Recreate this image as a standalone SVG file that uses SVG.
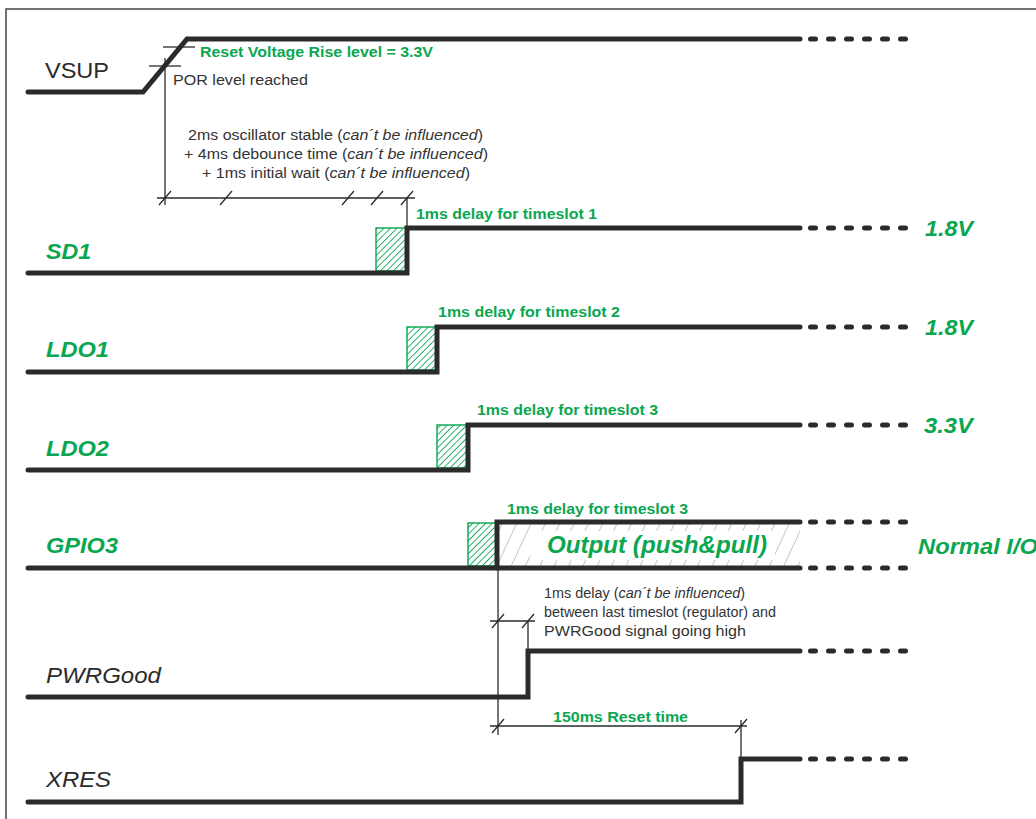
<svg xmlns="http://www.w3.org/2000/svg" width="1036" height="819" viewBox="0 0 1036 819">
<style>
.sig{fill:none;stroke:#2b2b2b;stroke-width:5;stroke-linecap:round;stroke-linejoin:miter}
.dots{fill:none;stroke:#2b2b2b;stroke-width:5;stroke-linecap:round;stroke-dasharray:5 13}
.dim{fill:none;stroke:#2b2b2b;stroke-width:1.3}
.hbox{fill:url(#hatchG);stroke:#05a550;stroke-width:1.4}
.lbl{font-family:"Liberation Sans",Arial,sans-serif;font-size:22px}
.glbl{font-family:"Liberation Sans",Arial,sans-serif;font-size:22px;font-weight:bold;font-style:italic;fill:#0aa650}
.dlbl{font-family:"Liberation Sans",Arial,sans-serif;font-size:22px;font-style:italic;fill:#2b2b2b}
.gs{font-family:"Liberation Sans",Arial,sans-serif;font-size:14px;font-weight:bold;fill:#0aa650}
.note{font-family:"Liberation Sans",Arial,sans-serif;font-size:14px;fill:#333333}
.it{font-style:italic}
</style>
<defs>
<pattern id="hatchG" width="4.6" height="4.6" patternUnits="userSpaceOnUse" patternTransform="rotate(45)">
<line x1="0" y1="0" x2="0" y2="4.6" stroke="#05a550" stroke-width="1.7"/>
</pattern>
<pattern id="hatchY" width="13" height="13" patternUnits="userSpaceOnUse" patternTransform="rotate(25)">
<line x1="0" y1="0" x2="0" y2="13" stroke="#a8a8a8" stroke-width="1.3"/>
</pattern>
</defs>
<rect width="1036" height="819" fill="#ffffff"/>
<path d="M6 819 V9 H1036" fill="none" stroke="#444444" stroke-width="1.5"/>

<g id="connectors">
<line class="dim" x1="163" y1="47" x2="195" y2="47"/>
<line class="dim" x1="149" y1="66" x2="181" y2="66"/>
<line class="dim" x1="165" y1="58" x2="165" y2="205"/>
<line class="dim" x1="157" y1="198" x2="415" y2="198"/>
<path class="dim" d="M159 205 L171 191 M220 205 L232 191 M342 205 L354 191 M371 205 L383 191 M401 205 L413 191"/>
<line class="dim" x1="407" y1="198" x2="407" y2="228"/>
<line class="dim" x1="498" y1="568" x2="498" y2="735"/>
<line class="dim" x1="490" y1="621" x2="535" y2="621"/>
<path class="dim" d="M492 628 L504 614 M522 628 L534 614"/>
<line class="dim" x1="528" y1="621" x2="528" y2="651"/>
<line class="dim" x1="490" y1="726" x2="747" y2="726"/>
<path class="dim" d="M492 733 L504 719 M735 733 L747 719"/>
<line class="dim" x1="741" y1="720" x2="741" y2="759"/>
</g>

<g id="vsup">
<path class="sig" d="M28 92 H143 L187 39 H800"/>
<path class="dots" d="M810.5 39 H906"/>
<text class="lbl" x="45" y="78" fill="#2b2b2b" textLength="64" lengthAdjust="spacingAndGlyphs">VSUP</text>
<text class="gs" x="200" y="57" textLength="233" lengthAdjust="spacingAndGlyphs">Reset Voltage Rise level = 3.3V</text>
<text class="note" x="173" y="85" textLength="135" lengthAdjust="spacingAndGlyphs">POR level reached</text>
<text class="note" x="188" y="140" textLength="295" lengthAdjust="spacingAndGlyphs">2ms oscillator stable (<tspan class="it">can´t be influenced</tspan>)</text>
<text class="note" x="184" y="159" textLength="304" lengthAdjust="spacingAndGlyphs">+ 4ms debounce time (<tspan class="it">can´t be influenced</tspan>)</text>
<text class="note" x="202" y="178" textLength="268" lengthAdjust="spacingAndGlyphs">+ 1ms initial wait (<tspan class="it">can´t be influenced</tspan>)</text>
</g>

<g id="sd1">
<rect class="hbox" x="376" y="228" width="30" height="43"/>
<path class="sig" d="M28 273 H407 V228 H800"/>
<path class="dots" d="M810.5 228 H906"/>
<text class="glbl" x="46" y="259" textLength="45" lengthAdjust="spacingAndGlyphs">SD1</text>
<text class="gs" x="416" y="219" textLength="181" lengthAdjust="spacingAndGlyphs">1ms delay for timeslot 1</text>
<text class="glbl" x="925" y="236" textLength="48" lengthAdjust="spacingAndGlyphs">1.8V</text>
</g>

<g id="ldo1">
<rect class="hbox" x="407" y="327" width="30" height="43"/>
<path class="sig" d="M28 372 H437 V327 H800"/>
<path class="dots" d="M810.5 327 H906"/>
<text class="glbl" x="46" y="357" textLength="63" lengthAdjust="spacingAndGlyphs">LDO1</text>
<text class="gs" x="438" y="317" textLength="182" lengthAdjust="spacingAndGlyphs">1ms delay for timeslot 2</text>
<text class="glbl" x="925" y="335" textLength="48" lengthAdjust="spacingAndGlyphs">1.8V</text>
</g>

<g id="ldo2">
<rect class="hbox" x="437" y="425" width="30" height="43"/>
<path class="sig" d="M28 470 H468 V425 H800"/>
<path class="dots" d="M810.5 425 H906"/>
<text class="glbl" x="46" y="456" textLength="63" lengthAdjust="spacingAndGlyphs">LDO2</text>
<text class="gs" x="477" y="415" textLength="181" lengthAdjust="spacingAndGlyphs">1ms delay for timeslot 3</text>
<text class="glbl" x="924" y="433" textLength="49" lengthAdjust="spacingAndGlyphs">3.3V</text>
</g>

<g id="gpio3">
<rect x="497" y="522" width="303" height="46" fill="url(#hatchY)"/>
<rect x="530" y="531" width="245" height="29" fill="#ffffff"/>
<rect class="hbox" x="468" y="523" width="29" height="43"/>
<path class="sig" d="M28 568 H800"/>
<path class="sig" d="M497 568 V522 H800"/>
<path class="dots" d="M810.5 522 H906"/>
<path class="dots" d="M810.5 568 H906"/>
<text class="glbl" x="46" y="553" textLength="72" lengthAdjust="spacingAndGlyphs">GPIO3</text>
<text class="gs" x="507" y="514" textLength="181" lengthAdjust="spacingAndGlyphs">1ms delay for timeslot 3</text>
<text class="glbl" x="547" y="553" style="font-size:23px" textLength="220" lengthAdjust="spacingAndGlyphs">Output (push&amp;pull)</text>
<text class="glbl" x="918" y="554" textLength="120" lengthAdjust="spacingAndGlyphs">Normal I/O</text>
</g>

<g id="pwrgood">
<path class="sig" d="M28 697 H528 V651 H800"/>
<path class="dots" d="M810.5 651 H906"/>
<text class="dlbl" x="46" y="683" textLength="115" lengthAdjust="spacingAndGlyphs">PWRGood</text>
<text class="note" x="544" y="598" textLength="201" lengthAdjust="spacingAndGlyphs">1ms delay (<tspan class="it">can´t be influenced</tspan>)</text>
<text class="note" x="544" y="617" textLength="232" lengthAdjust="spacingAndGlyphs">between last timeslot (regulator) and</text>
<text class="note" x="544" y="636" textLength="202" lengthAdjust="spacingAndGlyphs">PWRGood signal going high</text>
</g>

<g id="xres">
<path class="sig" d="M28 802 H741 V759 H800"/>
<path class="dots" d="M810.5 759 H906"/>
<text class="dlbl" x="46" y="787" textLength="65" lengthAdjust="spacingAndGlyphs">XRES</text>
<text class="gs" x="553" y="722" textLength="135" lengthAdjust="spacingAndGlyphs">150ms Reset time</text>
</g>
</svg>
